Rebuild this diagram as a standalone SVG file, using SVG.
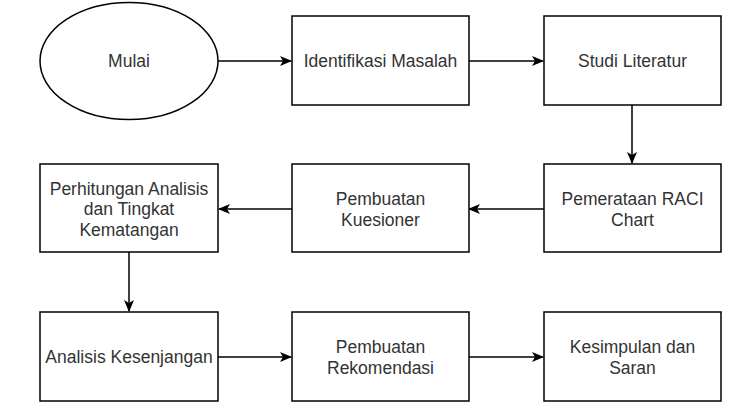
<svg xmlns="http://www.w3.org/2000/svg" width="736" height="408" viewBox="0 0 736 408">
<defs>
<style>
.n{fill:#fff;stroke:#000;stroke-width:1.5}
.t{font-family:"Liberation Sans",Arial,sans-serif;font-size:17.5px;fill:#333;text-anchor:middle}
.c{fill:none;stroke:#000;stroke-width:1.5}
</style>
<marker id="a" viewBox="0 0 12 10" refX="11" refY="5" markerWidth="12" markerHeight="10" markerUnits="userSpaceOnUse" orient="auto">
<path d="M0,0 L12,5 L0,10 L3,5 Z" fill="#000"/>
</marker>
</defs>
<rect width="736" height="408" fill="#fff"/>
<g id="connectors">
<path class="c" d="M218,61 H291" marker-end="url(#a)"/>
<path class="c" d="M469,61 H543" marker-end="url(#a)"/>
<path class="c" d="M632,105 V163" marker-end="url(#a)"/>
<path class="c" d="M544,209 H469" marker-end="url(#a)"/>
<path class="c" d="M292,209 H219" marker-end="url(#a)"/>
<path class="c" d="M129,252 V311" marker-end="url(#a)"/>
<path class="c" d="M218,357 H291" marker-end="url(#a)"/>
<path class="c" d="M469,357 H543" marker-end="url(#a)"/>
</g>
<g id="mulai"><ellipse class="n" cx="129" cy="61" rx="89" ry="58.5"/><text class="t" x="129" y="67">Mulai</text></g>
<g id="identifikasi"><rect class="n" x="292" y="16" width="177" height="89"/><text class="t" x="380.5" y="67">Identifikasi Masalah</text></g>
<g id="studi"><rect class="n" x="544" y="16" width="177" height="89"/><text class="t" x="632.5" y="67">Studi Literatur</text></g>
<g id="raci"><rect class="n" x="544" y="164" width="177" height="88"/><text class="t" x="632.5" y="205">Pemerataan RACI</text><text class="t" x="632.5" y="225.5">Chart</text></g>
<g id="kuesioner"><rect class="n" x="292" y="164" width="177" height="88"/><text class="t" x="380.5" y="205">Pembuatan</text><text class="t" x="380.5" y="225.5">Kuesioner</text></g>
<g id="perhitungan"><rect class="n" x="40" y="164" width="178" height="88"/><text class="t" x="129" y="194.5">Perhitungan Analisis</text><text class="t" x="129" y="215">dan Tingkat</text><text class="t" x="129" y="235.5">Kematangan</text></g>
<g id="analisis"><rect class="n" x="40" y="312" width="178" height="89"/><text class="t" x="129" y="363">Analisis Kesenjangan</text></g>
<g id="rekomendasi"><rect class="n" x="292" y="312" width="177" height="89"/><text class="t" x="380.5" y="353">Pembuatan</text><text class="t" x="380.5" y="373.5">Rekomendasi</text></g>
<g id="kesimpulan"><rect class="n" x="544" y="312" width="177" height="89"/><text class="t" x="632.5" y="353">Kesimpulan dan</text><text class="t" x="632.5" y="373.5">Saran</text></g>
</svg>
